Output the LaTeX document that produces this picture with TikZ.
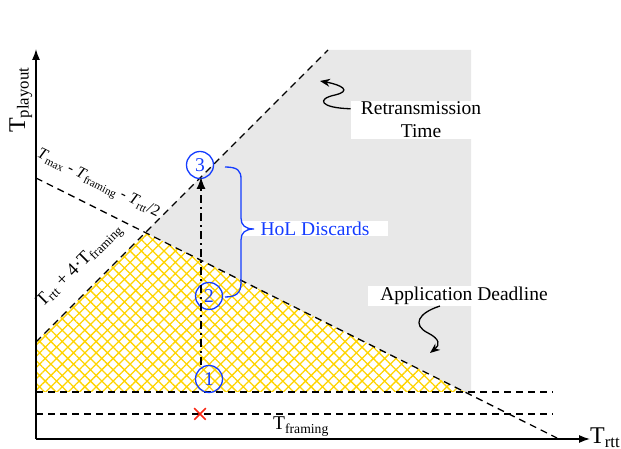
\documentclass[tikz,border=0pt]{standalone}
\usepackage{fontspec}
\setmainfont{Liberation Serif}
\usetikzlibrary{arrows.meta,patterns.meta,shapes.misc}
\definecolor{holblue}{RGB}{20,60,255}
\definecolor{hatchyellow}{RGB}{255,212,0}
\definecolor{retgray}{RGB}{232,232,232}
\definecolor{crossred}{RGB}{250,40,20}

\begin{document}
\begin{tikzpicture}[x=1pt,y=1pt,
  every node/.style={font=\fontsize{19.5}{23}\selectfont},
  dashline/.style={line width=1.3pt,dash pattern=on 7pt off 5pt},
  axis/.style={line width=1.3pt,-{Latex[length=11pt,width=8pt]}},
  num/.style={circle,draw=holblue,line width=1.3pt,text=holblue,minimum size=27pt,inner sep=0pt},
  whitebox/.style={fill=white,inner ysep=1pt},
  curly/.style={line width=1.3pt,-{Stealth[length=10pt,width=8pt]}},
  biglabel/.style={font=\fontsize{24}{26}\selectfont,inner sep=0pt},
  linelabel/.style={font=\fontsize{16}{18}\selectfont,inner sep=1pt}]

\useasboundingbox (0,0) rectangle (621,449);

\coordinate (O) at (36,10);
\coordinate (Y) at (36,400);
\coordinate (X) at (590,10);
\coordinate (A) at (36,107);
\coordinate (B) at (328,399);
\coordinate (C) at (36,271);
\coordinate (D) at (557,11);
\coordinate (I) at (145.4,216.4);
\coordinate (E) at (465,57);
\coordinate (G) at (471,399);
\coordinate (H) at (471,57);
\coordinate (S) at (36,57);
\coordinate (P) at (553,57);
\coordinate (Q) at (36,35);
\coordinate (R) at (553,35);

% regions
\fill[retgray] (I) -- (B) -- (G) -- (H) -- (E) -- cycle;
\fill[pattern={Hatch[angle=45,distance=8pt,line width=1.3pt]},pattern color=hatchyellow]
  (A) -- (I) -- (E) -- (S) -- cycle;

% boxed labels
\node[whitebox,inner xsep=10pt,align=center] (ret) at (421,329) {Retransmission\\Time};
\node[whitebox,inner xsep=12pt] (app) at (464,153) {Application Deadline};
\node[whitebox,inner xsep=19pt,text=holblue] (hol) at (315,220.5) {HoL Discards};

% limits
\draw[dashline] (C) -- (D);
\draw[dashline] (A) -- (B);
\draw[dashline] (S) -- (P);
\draw[dashline] (Q) -- (R);

\node[linelabel,rotate=-26.5] (max) at (98,265)
  {\textit{T}\textsubscript{max} - \textit{T}\textsubscript{framing} - \textit{T}\textsubscript{rtt}/2};
\node[linelabel,font=\fontsize{18.5}{20}\selectfont,rotate=45] (rtt) at (80,183)
  {T\textsubscript{rtt} + 4·T\textsubscript{framing}};

% axes
\draw[axis] (O) -- (Y);
\draw[axis] (O) -- (X);
\node[biglabel,anchor=base west] (xlab) at (590,5) {T\textsubscript{rtt}};
\node[biglabel,anchor=base west,rotate=90] (ylab) at (25,316) {T\textsubscript{playout}};
\node[inner sep=0pt,anchor=base west] (fr) at (273,19) {T\textsubscript{framing}};

% points
\node[cross out,draw=crossred,line width=1.5pt,minimum size=10pt,inner sep=0pt] (K) at (200,35) {};
\node[num] (c1) at (209,70) {1};
\node[num] (c2) at (209,153) {2};
\node[num] (c3) at (200,284) {3};

\coordinate (T) at (201,272);
\draw[line width=1.3pt,dash pattern=on 8pt off 4pt on 2pt off 4pt,
  -{Latex[length=12pt,width=9pt]}] (T |- c1.north) -- (T);

% brace
\draw[holblue,line width=1.3pt] (225,282) .. controls (238,282) and (241,278) .. (241,270)
  -- (241,231) .. controls (241,224) and (245,220) .. (254,220)
  .. controls (245,220) and (241,216) .. (241,209)
  -- (241,166) .. controls (241,156) and (236,152) .. (225,152);

% pointers
\coordinate (rt) at (320,368);
\coordinate (ad) at (430,96);
\draw[curly] ([yshift=-8pt]ret.north west) .. controls (320,341) and (316,350) .. (335,354)
  .. controls (352,358) and (342,364) .. (rt);
\draw[curly] ([xshift=-24pt]app.south) .. controls (418,136) and (412,124) .. (428,116)
  .. controls (440,110) and (440,104) .. (ad);

\end{tikzpicture}
\end{document}
